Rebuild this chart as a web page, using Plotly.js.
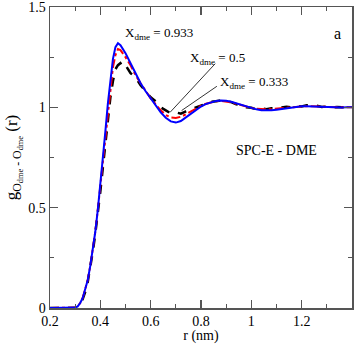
<!DOCTYPE html>
<html>
<head>
<meta charset="utf-8">
<script src="https://cdn.plot.ly/plotly-3.0.1.min.js"></script>
<style>
  html, body { margin: 0; padding: 0; background: #fff; }
  #plot { width: 354px; height: 344px; }
</style>
</head>
<body>
<div id="plot"></div>
<script>
// r (nm)
const r = [
  0.20, 0.25, 0.28, 0.30, 0.31, 0.32, 0.33, 0.34, 0.35, 0.36, 0.37, 0.38, 0.39,
  0.40, 0.41, 0.42, 0.43, 0.44, 0.45, 0.46, 0.47, 0.48, 0.49, 0.50, 0.52, 0.54,
  0.56, 0.58, 0.60, 0.62, 0.64, 0.66, 0.68, 0.70, 0.72, 0.74, 0.76, 0.78, 0.80,
  0.82, 0.84, 0.86, 0.88, 0.90, 0.92, 0.94, 0.96, 0.98, 1.00, 1.02, 1.04, 1.06,
  1.08, 1.10, 1.12, 1.14, 1.16, 1.18, 1.20, 1.22, 1.24, 1.26, 1.28, 1.30, 1.32,
  1.34, 1.36, 1.38, 1.40
];

// X_dme = 0.333 (blue, solid)
const gBlue = [
  0, 0, 0, 0.002, 0.008, 0.025, 0.05, 0.09, 0.14, 0.21, 0.29, 0.38, 0.49,
  0.61, 0.74, 0.88, 1.02, 1.14, 1.24, 1.30, 1.32, 1.31, 1.29, 1.27, 1.22, 1.17,
  1.12, 1.08, 1.045, 1.01, 0.975, 0.948, 0.93, 0.924, 0.932, 0.95, 0.968, 0.987, 1.004,
  1.017, 1.026, 1.032, 1.034, 1.033, 1.028, 1.02, 1.012, 1.004, 0.996, 0.99, 0.986, 0.984,
  0.985, 0.988, 0.992, 0.996, 1.0, 1.003, 1.005, 1.006, 1.005, 1.003, 1.001, 0.999, 0.998,
  0.998, 0.999, 1.0, 1.0
];

// X_dme = 0.5 (red, dash-dot)
const gRed = [
  0, 0, 0, 0.002, 0.008, 0.025, 0.05, 0.09, 0.14, 0.21, 0.29, 0.38, 0.49,
  0.61, 0.74, 0.87, 0.99, 1.10, 1.20, 1.26, 1.29, 1.285, 1.27, 1.25, 1.21, 1.16,
  1.12, 1.08, 1.045, 1.015, 0.985, 0.962, 0.95, 0.947, 0.953, 0.965, 0.98, 0.995, 1.008,
  1.018, 1.026, 1.03, 1.032, 1.03, 1.025, 1.018, 1.01, 1.003, 0.997, 0.993, 0.99, 0.99,
  0.991, 0.993, 0.996, 0.999, 1.002, 1.004, 1.005, 1.006, 1.005, 1.004, 1.002, 1.0, 0.999,
  0.999, 1.0, 1.0, 1.0
];

// X_dme = 0.933 (black, dashed)
const gBlack = [
  0, 0, 0, 0.0, 0.006, 0.02, 0.045, 0.08, 0.13, 0.2, 0.28, 0.37, 0.47,
  0.58, 0.7, 0.82, 0.94, 1.05, 1.13, 1.19, 1.21, 1.22, 1.2, 1.21, 1.17, 1.15,
  1.11, 1.08, 1.05, 1.03, 1.0, 0.985, 0.97, 0.975, 0.968, 0.98, 0.99, 1.0, 1.012,
  1.02, 1.028, 1.03, 1.035, 1.03, 1.026, 1.015, 1.012, 1.0, 0.998, 0.99, 0.995, 0.99,
  0.996, 0.995, 1.0, 1.003, 1.0, 1.008, 1.004, 1.01, 1.006, 1.008, 1.002, 1.004, 0.999,
  1.002, 1.0, 1.003, 1.0
];

const xTicks = [0.2, 0.4, 0.6, 0.8, 1, 1.2];
const yTicks = [0, 0.5, 1, 1.5];

const serif = 'Liberation Serif';

const traces = [
  {
    x: r, y: gBlack, mode: 'lines', name: 'X 0.933',
    line: { color: 'black', width: 2.5, dash: 'dash' },
  },
  {
    x: r, y: gRed, mode: 'lines', name: 'X 0.5',
    line: { color: 'red', width: 2, dash: 'dashdot' },
  },
  {
    x: r, y: gBlue, mode: 'lines', name: 'X 0.333',
    line: { color: 'blue', width: 2 },
  },
];

function axisBase() {
  return {
    showline: true,
    linecolor: '#555',
    linewidth: 1.5,
    mirror: 'ticks',
    ticks: 'inside',
    ticklen: 8,
    tickwidth: 1.2,
    tickcolor: '#555',
    showgrid: false,
    zeroline: false,
    ticklabeloverflow: 'allow',
    tickfont: { family: serif, size: 14, color: 'black' },
  };
}

const layout = {
  width: 354,
  height: 344,
  margin: { l: 50, r: 2, t: 7, b: 36 },
  paper_bgcolor: 'white',
  plot_bgcolor: 'white',
  showlegend: false,
  font: { family: serif, color: 'black', size: 14 },
  xaxis: Object.assign(axisBase(), {
    range: [0.2, 1.4],
    tickvals: xTicks,
    ticktext: xTicks.map(String),
    minor: { dtick: 0.1, ticks: 'inside', ticklen: 4, tickcolor: '#555' },
    title: { text: 'r (nm)', font: { family: serif, size: 14 }, standoff: 5 },
  }),
  yaxis: Object.assign(axisBase(), {
    range: [0, 1.5],
    tickvals: yTicks,
    ticktext: yTicks.map(String),
    minor: { dtick: 0.25, ticks: 'inside', ticklen: 4, tickcolor: '#555' },
    title: {
      text: 'g<sub>O<sub>dme</sub> - O<sub>dme</sub></sub> (r)',
      font: { family: serif, size: 17 },
      standoff: 6,
    },
  }),
  annotations: [
    {
      x: 0.49, y: 1.366, xanchor: 'left', yanchor: 'middle', showarrow: false,
      text: 'X<sub>dme</sub> = 0.933', font: { family: serif, size: 13 },
    },
    {
      x: 0.748, y: 1.245, xanchor: 'left', yanchor: 'middle', showarrow: false,
      text: 'X<sub>dme</sub> = 0.5', font: { family: serif, size: 13 },
    },
    {
      x: 0.867, y: 1.125, xanchor: 'left', yanchor: 'middle', showarrow: false,
      text: 'X<sub>dme</sub> = 0.333', font: { family: serif, size: 13 },
    },
    {
      x: 0.677, y: 0.975, ax: 0.862, ay: 1.225, axref: 'x', ayref: 'y',
      text: '', showarrow: true, arrowhead: 0, arrowwidth: 0.8, arrowcolor: 'black',
    },
    {
      x: 0.723, y: 0.984, ax: 0.869, ay: 1.11, axref: 'x', ayref: 'y',
      text: '', showarrow: true, arrowhead: 0, arrowwidth: 0.8, arrowcolor: 'black',
    },
    {
      x: 1.098, y: 0.785, showarrow: false,
      text: 'SPC-E - DME', font: { family: serif, size: 14 },
    },
    {
      x: 1.344, y: 1.366, showarrow: false,
      text: 'a', font: { family: serif, size: 16 },
    },
  ],
};

Plotly.newPlot('plot', traces, layout, { staticPlot: true, displayModeBar: false });
</script>
</body>
</html>
